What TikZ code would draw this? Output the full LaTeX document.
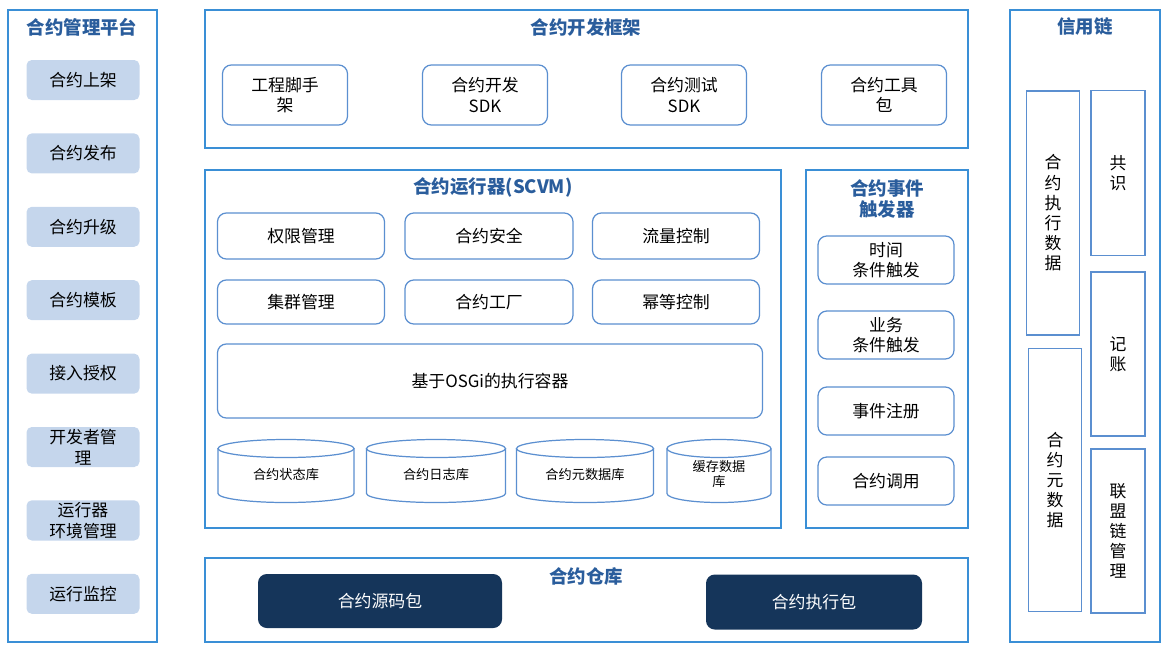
\documentclass[tikz,border=0pt]{standalone}
\usepackage{fontspec}
\setmainfont{Noto Sans CJK SC}
\usetikzlibrary{positioning}

\definecolor{panelblue}{HTML}{3A8FD6}
\definecolor{boxblue}{HTML}{5B8FD0}
\definecolor{titleblue}{HTML}{2A5D9C}
\definecolor{itemfill}{HTML}{C5D6EC}
\definecolor{darkbox}{HTML}{15355A}

\tikzset{
    panel/.style={draw=panelblue, line width=0.9pt},
    ptitle/.style={text=titleblue, font=\bfseries\fontsize{10.5}{12}\selectfont, align=center},
    sz/.style args={#1/#2}{minimum width=#1*0.02cm, minimum height=#2*0.02cm, inner sep=1pt},
    item/.style={fill=itemfill, rounded corners=3pt, font=\fontsize{9.6}{12}\selectfont, sz=113/40},
    mod/.style={draw=boxblue, line width=0.7pt, rounded corners=5pt, fill=white,
        font=\fontsize{9.6}{11.5}\selectfont, align=center},
    repo/.style={fill=darkbox, rounded corners=5pt, text=white, font=\fontsize{9.6}{12}\selectfont},
    pics/dbcyl/.style args={#1/#2/#3}{
        code={
            \draw[boxblue, line width=0.7pt, fill=white] (-#1/2,#2/2-9) -- (-#1/2,-#2/2+9)
                arc[start angle=180, end angle=360, x radius=#1/2, y radius=9] -- (#1/2,#2/2-9);
            \draw[boxblue, line width=0.7pt] (0,#2/2-9) ellipse[x radius=#1/2, y radius=9];
            \node[font=\fontsize{7.5}{9}\selectfont, align=center] (-lbl) at (0,-3) {#3};
        }
    }
}

\begin{document}
\begin{tikzpicture}[x=0.02cm, y=0.02cm]
    \useasboundingbox (0,0) rectangle (1168,-650);

    % 合约管理平台
    \draw[panel] (8,-10) rectangle (157,-642);
    \node[ptitle] (mgmt) at (82,-27) {合约管理平台};
    \foreach \t [count=\i] in {合约上架,合约发布,合约升级,合约模板,接入授权,开发者管\\理,运行器\\环境管理,运行监控}{
        \node[item, align=center] (m\i) at (83,{-80-(\i-1)*73.4}) {\t};
    }

    % 合约开发框架
    \draw[panel] (205,-10) rectangle (968,-148);
    \node[ptitle] (devfw) at (586,-27) {合约开发框架};
    \node[mod, sz=125/60] (d1) at (285,-95) {工程脚手\\架};
    \node[mod, sz=125/60] (d2) at (485,-95) {合约开发\\SDK};
    \node[mod, sz=125/60] (d3) at (684,-95) {合约测试\\SDK};
    \node[mod, sz=125/60] (d4) at (884,-95) {合约工具\\包};

    % 合约运行器
    \draw[panel] (205,-170) rectangle (781,-528);
    \node[ptitle] (scvm) at (493,-187) {合约运行器(SCVM)};
    \node[mod, sz=167/46] (r1) at (301,-236) {权限管理};
    \node[mod, sz=168/46] (r2) at (489,-236) {合约安全};
    \node[mod, sz=167/46] (r3) at (676,-236) {流量控制};
    \node[mod, sz=167/44] (r4) at (301,-302) {集群管理};
    \node[mod, sz=168/44] (r5) at (489,-302) {合约工厂};
    \node[mod, sz=167/44] (r6) at (676,-302) {幂等控制};
    \node[mod, sz=545/74] (osgi) at (490,-381) {基于OSGi的执行容器};
    \pic (c1) at (286,-471) {dbcyl=136/63/合约状态库};
    \pic (c2) at (436,-471) {dbcyl=139/63/合约日志库};
    \pic (c3) at (585,-471) {dbcyl=137/63/合约元数据库};
    \pic (c4) at (719,-471) {dbcyl=104/63/缓存数据\\库};

    % 合约事件触发器
    \draw[panel] (806,-170) rectangle (968,-528);
    \node[ptitle] (evt) at (887,-199) {合约事件\\触发器};
    \node[mod, sz=136/48] (e1) at (886,-260) {时间\\条件触发};
    \node[mod, sz=136/48] (e2) at (886,-335) {业务\\条件触发};
    \node[mod, sz=136/48] (e3) at (886,-411) {事件注册};
    \node[mod, sz=136/48] (e4) at (886,-481) {合约调用};

    % 合约仓库
    \draw[panel] (205,-558) rectangle (968,-642);
    \node[ptitle] (repo) at (586,-576) {合约仓库};
    \node[repo, sz=244/54] (src) at (380,-601) {合约源码包};
    \node[repo, sz=216/55] (exe) at (814,-602) {合约执行包};

    % 信用链
    \draw[panel] (1010,-10) rectangle (1160,-642);
    \node[ptitle] (chain) at (1085,-27) {信用链};
    \node[mod, rounded corners=0pt, sz=53/244] (ch1) at (1053,-213) {合\\约\\执\\行\\数\\据};
    \node[mod, rounded corners=0pt, sz=53/263] (ch2) at (1055,-480) {合\\约\\元\\数\\据};
    \node[mod, rounded corners=0pt, sz=54/165] (ch3) at (1118,-173) {共\\识};
    \node[mod, rounded corners=0pt, sz=54/164] (ch4) at (1118,-354) {记\\账};
    \node[mod, rounded corners=0pt, sz=54/164] (ch5) at (1118,-531) {联\\盟\\链\\管\\理};
\end{tikzpicture}
\end{document}
